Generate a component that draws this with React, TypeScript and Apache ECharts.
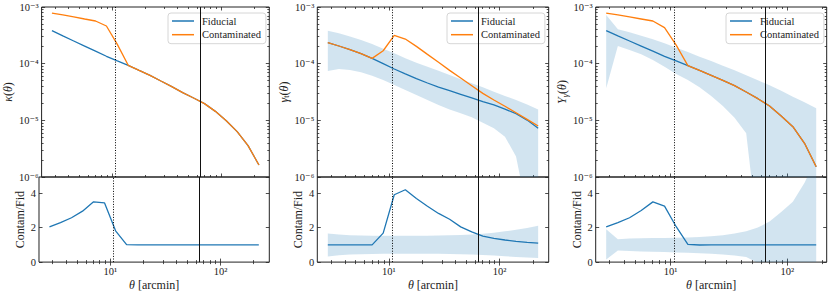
import React, { useEffect, useRef } from 'react';
import * as echarts from 'echarts';

// ---------------- data ----------------
const theta = [2.805, 3.532, 4.446, 5.598, 7.047, 8.872, 11.17, 14.06, 17.7, 22.28, 28.05, 35.32, 44.46, 55.98, 70.47, 88.72, 111.7, 140.6, 177.0, 222.8];
const thetaYg = [2.805, 3.532, 4.446, 5.598, 7.047, 8.872, 11.17, 14.06, 17.7, 22.28, 28.05, 35.32, 44.46, 55.98, 70.47, 88.72, 111.7, 140.6, 177.0];

const kappaFid = [3.82e-4, 3.09e-4, 2.51e-4, 2.04e-4, 1.66e-4, 1.35e-4, 1.12e-4, 9.35e-5, 7.62e-5, 6.22e-5, 4.94e-5, 3.93e-5, 3.08e-5, 2.48e-5, 1.97e-5, 1.44e-5, 9.86e-6, 6.31e-6, 3.57e-6, 1.63e-6];
const kappaCont = [7.83e-4, 7.23e-4, 6.67e-4, 6.14e-4, 5.66e-4, 4.62e-4, 2.19e-4, 9.35e-5, 7.62e-5, 6.22e-5, 4.94e-5, 3.93e-5, 3.08e-5, 2.48e-5, 1.97e-5, 1.44e-5, 9.86e-6, 6.31e-6, 3.57e-6, 1.63e-6];
const kappaRatio = [2.04, 2.29, 2.57, 2.95, 3.49, 3.43, 1.81, 1.01, 1.0, 1.0, 1.0, 1.0, 1.0, 1.0, 1.0, 1.0, 1.0, 1.0, 1.0, 1.0];

const gammaFid = [2.35e-4, 2.05e-4, 1.77e-4, 1.5e-4, 1.24e-4, 1.0e-4, 8.05e-5, 6.58e-5, 5.43e-5, 4.56e-5, 3.87e-5, 3.34e-5, 2.88e-5, 2.48e-5, 2.13e-5, 1.87e-5, 1.58e-5, 1.31e-5, 1.01e-5, 7.23e-6];
const gammaCont = [2.35e-4, 2.05e-4, 1.77e-4, 1.5e-4, 1.24e-4, 1.69e-4, 3.16e-4, 2.72e-4, 2.02e-4, 1.46e-4, 1.06e-4, 7.62e-5, 5.58e-5, 4.09e-5, 2.99e-5, 2.29e-5, 1.77e-5, 1.36e-5, 1.04e-5, 7.94e-6];
const gammaRatio = [1.0, 1.0, 1.0, 1.0, 1.0, 1.68, 3.9, 4.19, 3.68, 3.24, 2.82, 2.48, 2.04, 1.75, 1.5, 1.37, 1.28, 1.2, 1.14, 1.1];
const gammaHi = [3.82e-4, 3.43e-4, 3.03e-4, 2.62e-4, 2.22e-4, 1.84e-4, 1.52e-4, 1.24e-4, 1.04e-4, 8.85e-5, 7.52e-5, 6.31e-5, 5.3e-5, 4.5e-5, 3.82e-5, 3.21e-5, 2.69e-5, 2.29e-5, 1.91e-5, 1.56e-5];
const gammaLo = [7.43e-5, 8.05e-5, 7.73e-5, 7.03e-5, 6.14e-5, 5.15e-5, 4.21e-5, 3.43e-5, 2.8e-5, 2.29e-5, 1.87e-5, 1.56e-5, 1.33e-5, 1.13e-5, 9.1e-6, 7.23e-6, 5.15e-6, 2.29e-6, 2.5e-7, 1e-8];
const gammaRatioHi = [1.66, 1.6, 1.56, 1.54, 1.53, 1.53, 1.53, 1.53, 1.53, 1.53, 1.54, 1.55, 1.57, 1.6, 1.64, 1.7, 1.78, 1.87, 1.98, 2.1];
const gammaRatioLo = [0.32, 0.4, 0.44, 0.46, 0.47, 0.48, 0.48, 0.48, 0.48, 0.48, 0.48, 0.47, 0.46, 0.44, 0.41, 0.38, 0.34, 0.3, 0.27, 0.24];

const ygFid = [3.82e-4, 3.09e-4, 2.51e-4, 2.04e-4, 1.66e-4, 1.35e-4, 1.12e-4, 9.22e-5, 7.62e-5, 6.22e-5, 5.08e-5, 4.09e-5, 3.16e-5, 2.41e-5, 1.79e-5, 1.19e-5, 7.73e-6, 3.93e-6, 1.52e-6];
const ygCont = [7.83e-4, 7.23e-4, 6.67e-4, 6.14e-4, 5.66e-4, 4.32e-4, 2.13e-4, 9.22e-5, 7.62e-5, 6.22e-5, 5.08e-5, 4.09e-5, 3.16e-5, 2.41e-5, 1.79e-5, 1.19e-5, 7.73e-6, 3.93e-6, 1.52e-6];
const ygRatio = [2.04, 2.29, 2.57, 2.99, 3.49, 3.24, 2.05, 1.03, 0.99, 1.0, 1.0, 1.0, 1.0, 1.0, 1.0, 1.0, 1.0, 1.0, 1.0];
const ygHi = [7.23e-4, 4.04e-4, 3.57e-4, 3.12e-4, 2.69e-4, 2.29e-4, 1.91e-4, 1.61e-4, 1.33e-4, 1.11e-4, 9.22e-5, 7.62e-5, 6.22e-5, 5.08e-5, 4.15e-5, 3.34e-5, 2.62e-5, 2.08e-5, 1.63e-5];
const ygLo = [3.67e-5, 2.05e-4, 1.74e-4, 1.46e-4, 1.16e-4, 8.85e-5, 6.58e-5, 5.15e-5, 3.82e-5, 2.69e-5, 1.79e-5, 1.11e-5, 5.9e-6, 1e-7, 1e-8, 1e-8, 1e-8, 1e-8, 1e-8];
const ygRatioHi = [1.9, 1.33, 1.36, 1.38, 1.39, 1.4, 1.41, 1.43, 1.46, 1.5, 1.56, 1.65, 1.78, 2.0, 2.35, 2.9, 3.5, 4.6, 6.0];
const ygRatioLo = [0.15, 0.67, 0.64, 0.62, 0.6, 0.58, 0.56, 0.54, 0.51, 0.48, 0.44, 0.38, 0.3, -0.05, -0.4, -0.9, -1.5, -2.6, -4.0];

const scaleCutSmall = 10.6; // arcmin, dotted line
const scaleCutLarge = 64; // arcmin, solid line

const xTickLabels = ['10¹', '10²'];
const yTickLabels = ['10⁻⁶', '10⁻⁵', '10⁻⁴', '10⁻³'];
const ratioTicks = [0, 2, 4];
const legendNames = ['Fiducial', 'Contaminated'];

// ---------------- style ----------------
const F = '"Liberation Serif", "DejaVu Serif", serif';
const INK = '#222';
const BLUE = '#1f77b4';
const ORANGE = '#ff7f0e';
const BAND = 'rgba(31,119,180,0.2)';
const TOP = 7;
const H1 = 170;
const H2 = 86.3;
const L10 = Math.log10;

function logMinor(lo: number, hi: number, dmin: number, dmax: number) {
  const out: number[] = [];
  for (let d = dmin; d <= dmax; d++) {
    for (let m = 2; m <= 9; m++) {
      const v = d + L10(m);
      if (v > lo && v < hi) out.push(v);
    }
  }
  return out;
}

const NFS = 12;
const nameStyle: any = {
  fontFamily: F,
  fontSize: NFS,
  color: INK,
  lineHeight: 14,
  rich: {
    i: { fontFamily: F, fontStyle: 'italic', fontSize: NFS, lineHeight: 14, color: INK },
    s: { fontFamily: F, fontSize: 8.5, verticalAlign: 'bottom', color: INK },
    si: { fontFamily: F, fontStyle: 'italic', fontSize: 8.5, verticalAlign: 'bottom', color: INK },
  },
};

const PANELS: any[] = [
  {
    left: 39, width: 230.3, xr: [0.353, 2.443], theta: theta,
    fid: kappaFid, cont: kappaCont, ratio: kappaRatio, band: null, rband: null,
    yName: '{i|κ}({i|θ})', yGap: 20, legendLeft: 168,
  },
  {
    left: 317.3, width: 231.4, xr: [0.353, 2.443], theta: theta,
    fid: gammaFid, cont: gammaCont, ratio: gammaRatio, band: [gammaLo, gammaHi], rband: [gammaRatioLo, gammaRatioHi],
    yName: '{i|γ}{s|t}({i|θ})', yGap: 22, legendLeft: 447,
  },
  {
    left: 595.7, width: 231, xr: [0.358, 2.338], theta: thetaYg,
    fid: ygFid, cont: ygCont, ratio: ygRatio, band: [ygLo, ygHi], rband: [ygRatioLo, ygRatioHi],
    yName: '{i|Y}{si|γ}({i|θ})', yGap: 23.5, legendLeft: 726,
  },
];

function tick(vals: number[], len: number, show = true) {
  return { show, inside: true, length: len, customValues: vals, lineStyle: { color: INK, width: 0.8 } };
}

function buildOption() {
  const grid: any[] = [];
  const xAxis: any[] = [];
  const yAxis: any[] = [];
  const series: any[] = [];
  const legend: any[] = [];

  const vlines = {
    silent: true,
    symbol: ['none', 'none'],
    label: { show: false },
    emphasis: { disabled: true },
    lineStyle: { color: '#000', width: 1 },
    data: [
      { xAxis: L10(scaleCutSmall), lineStyle: { color: '#000', width: 1, type: [1, 1.6] } },
      { xAxis: L10(scaleCutLarge), lineStyle: { color: '#111', width: 1, type: 'solid' } },
    ],
  };

  PANELS.forEach((p, pi) => {
    [0, 1].forEach((row) => {
      const g = pi * 2 + row;
      const isLog = row === 0;
      grid.push({
        left: p.left, top: row === 0 ? TOP : TOP + H1, width: p.width, height: row === 0 ? H1 : H2,
        show: true, borderColor: INK, borderWidth: 1, backgroundColor: 'transparent',
      });
      // x axes
      const xb: any = { type: 'value', gridIndex: g, min: p.xr[0], max: p.xr[1], axisLine: { show: false }, splitLine: { show: false } };
      const xMajor = [1, 2];
      const xMinor = logMinor(p.xr[0], p.xr[1], 0, 2);
      const showX = row === 1;
      xAxis.push({
        ...xb, position: 'bottom', axisTick: tick(xMajor, 3.5),
        axisLabel: showX
          ? { show: true, customValues: xMajor, formatter: (v: number) => xTickLabels[Math.round(v) - 1], margin: 4, fontFamily: F, fontSize: 10.5, color: INK }
          : { show: false },
        ...(showX ? { name: '{i|θ} [arcmin]', nameLocation: 'middle', nameGap: 14, nameTextStyle: nameStyle } : {}),
      });
      xAxis.push({ ...xb, position: 'bottom', axisTick: tick(xMinor, 2), axisLabel: { show: false } });
      xAxis.push({ ...xb, position: 'top', axisTick: tick(xMajor, 3.5), axisLabel: { show: false } });
      xAxis.push({ ...xb, position: 'top', axisTick: tick(xMinor, 2), axisLabel: { show: false } });
      // y axes
      const yb: any = isLog
        ? { type: 'value', gridIndex: g, min: -6, max: -3, axisLine: { show: false }, splitLine: { show: false } }
        : { type: 'value', gridIndex: g, min: 0, max: 4.93, axisLine: { show: false }, splitLine: { show: false } };
      const yMajor = isLog ? [-6, -5, -4, -3] : ratioTicks;
      const yMinor = isLog ? logMinor(-6, -3, -6, -4) : [];
      yAxis.push({
        ...yb, position: 'left', axisTick: tick(yMajor, 3.5),
        axisLabel: {
          show: true, customValues: yMajor,
          formatter: (v: number) => (isLog ? yTickLabels[Math.round(v) + 6] : String(Math.round(v))),
          margin: 3, fontFamily: F, fontSize: 10.5, color: INK,
        },
        name: isLog ? p.yName : 'Contam/Fid', nameLocation: 'middle', nameRotate: 90,
        nameGap: isLog ? p.yGap : 10, nameTextStyle: nameStyle,
      });
      yAxis.push({ ...yb, position: 'left', axisTick: tick(yMinor, 2, isLog), axisLabel: { show: false } });
      yAxis.push({ ...yb, position: 'right', axisTick: tick(yMajor, 3.5), axisLabel: { show: false } });
      yAxis.push({ ...yb, position: 'right', axisTick: tick(yMinor, 2, isLog), axisLabel: { show: false } });

      const xi = 4 * g;
      const tr = (v: number) => (isLog ? L10(v) : v);
      const xs = p.theta.map((t: number) => L10(t));
      const bandArr = isLog ? p.band : p.rband;
      if (bandArr) {
        const lo = bandArr[0].map(tr);
        const hi = bandArr[1].map(tr);
        series.push({
          type: 'custom', name: 'band' + g, xAxisIndex: xi, yAxisIndex: xi, clip: true, silent: true, z: 1,
          data: xs.map((x: number, i: number) => [x, lo[i], hi[i]]),
          encode: { x: 0, y: [1, 2] },
          renderItem: (params: any, api: any) => {
            if (params.dataIndex !== 0) return null;
            const pts: number[][] = [];
            for (let i = 0; i < xs.length; i++) pts.push(api.coord([xs[i], hi[i]]));
            for (let i = xs.length - 1; i >= 0; i--) pts.push(api.coord([xs[i], lo[i]]));
            return { type: 'polygon', shape: { points: pts }, style: { fill: BAND, stroke: 'none' } };
          },
        });
      }
      const mkLine = (name: string, ys: number[], color: string, mark: boolean) => ({
        type: 'line', name, xAxisIndex: xi, yAxisIndex: xi,
        data: xs.map((x: number, i: number) => [x, tr(ys[i])]),
        symbol: 'none', showSymbol: false, clip: true, z: 3,
        lineStyle: { color, width: 1.3 }, itemStyle: { color },
        emphasis: { disabled: true },
        ...(mark ? { markLine: vlines } : {}),
      });
      if (isLog) {
        series.push(mkLine('Fiducial', p.fid, BLUE, true));
        series.push(mkLine('Contaminated', p.cont, ORANGE, false));
      } else {
        series.push(mkLine('ratio' + pi, p.ratio, BLUE, true));
      }
    });
    legend.push({
      left: p.legendLeft, top: 13, orient: 'vertical', data: legendNames,
      icon: 'rect', itemWidth: 22, itemHeight: 1.5, itemGap: 1.7, padding: [2, 5, 3, 4],
      backgroundColor: 'rgba(255,255,255,0.8)', borderColor: '#cccccc', borderWidth: 0.8, borderRadius: 3,
      selectedMode: false,
      textStyle: { fontFamily: F, fontSize: 10.5, color: INK, lineHeight: 12, padding: [0, 0, 0, 3] },
    });
  });

  return { animation: false, backgroundColor: '#fff', grid, xAxis, yAxis, series, legend };
}

export default function App() {
  const ref = useRef<HTMLDivElement>(null);
  useEffect(() => {
    const chart = echarts.init(ref.current!, null, { renderer: 'svg' });
    chart.setOption(buildOption() as any);
    return () => chart.dispose();
  }, []);
  return <div ref={ref} style={{ position: 'fixed', left: 0, top: 0, width: 831, height: 293, background: '#fff' }} />;
}
